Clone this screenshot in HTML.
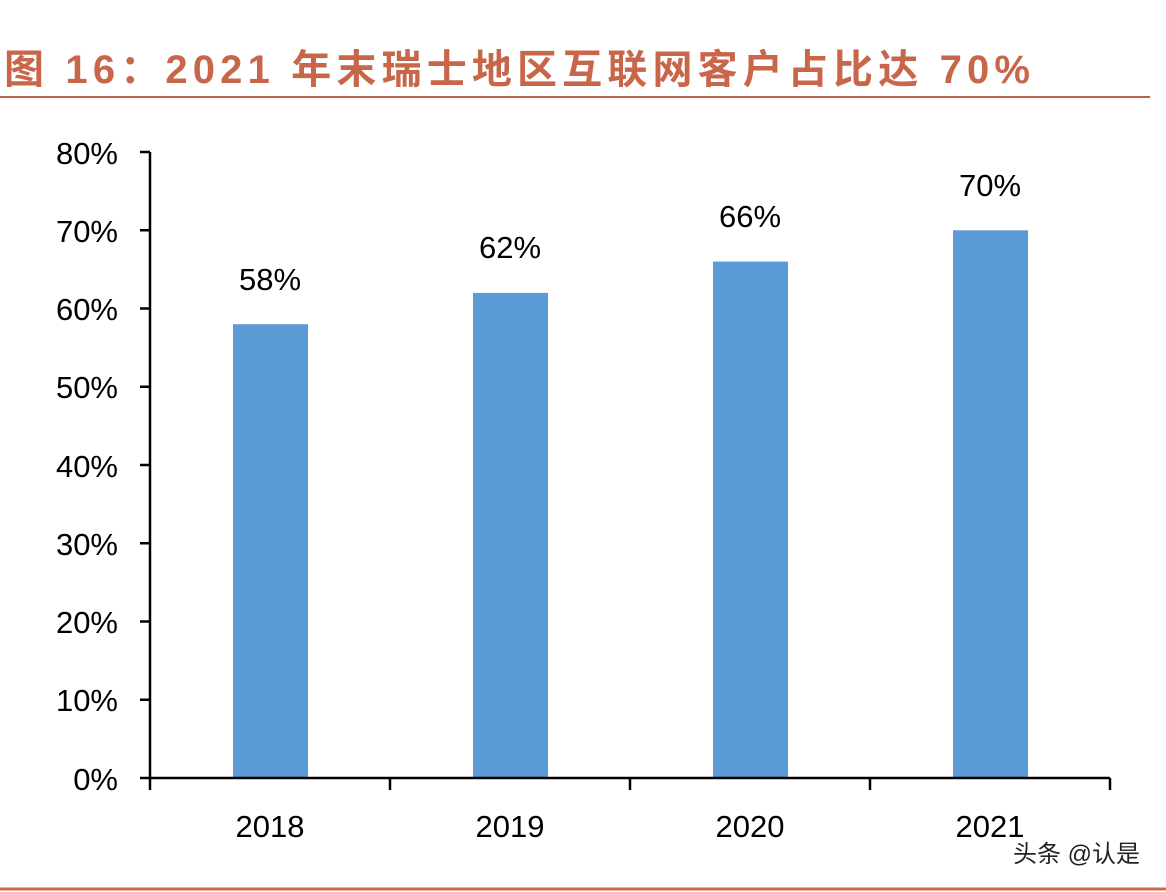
<!DOCTYPE html>
<html><head><meta charset="utf-8"><style>
html,body{margin:0;padding:0;background:#fff;}
svg{display:block;}
</style></head><body>
<svg width="1166" height="892" xmlns="http://www.w3.org/2000/svg">
<text x="4" y="83" textLength="1026" lengthAdjust="spacing" font-family="Liberation Sans, Noto Sans CJK SC, sans-serif" font-size="40" font-weight="bold" fill="#c8664a">图 16：2021 年末瑞士地区互联网客户占比达 70%</text>
<line x1="0" y1="97" x2="1150" y2="97" stroke="#c0604a" stroke-width="2"/>
<g fill="#5b9bd5">
<rect x="233" y="324.2" width="75" height="453.8"/>
<rect x="473" y="292.9" width="75" height="485.1"/>
<rect x="713" y="261.6" width="75" height="516.4"/>
<rect x="953" y="230.3" width="75" height="547.7"/>
</g>
<g stroke="#000" stroke-width="2.5" fill="none">
<line x1="150" y1="152" x2="150" y2="790"/>
<line x1="140" y1="778" x2="1110" y2="778"/>
<line x1="140" y1="152" x2="150" y2="152"/><line x1="140" y1="230.25" x2="150" y2="230.25"/>
<line x1="140" y1="308.5" x2="150" y2="308.5"/><line x1="140" y1="386.75" x2="150" y2="386.75"/>
<line x1="140" y1="465" x2="150" y2="465"/><line x1="140" y1="543.25" x2="150" y2="543.25"/>
<line x1="140" y1="621.5" x2="150" y2="621.5"/><line x1="140" y1="699.75" x2="150" y2="699.75"/>
<line x1="390" y1="778" x2="390" y2="790"/><line x1="630" y1="778" x2="630" y2="790"/>
<line x1="870" y1="778" x2="870" y2="790"/><line x1="1110" y1="778" x2="1110" y2="790"/>
</g>
<g font-family="Liberation Sans, sans-serif" font-size="31" fill="#000" text-anchor="end">
<text x="118" y="164">80%</text><text x="118" y="242">70%</text><text x="118" y="320">60%</text>
<text x="118" y="398">50%</text><text x="118" y="477">40%</text><text x="118" y="555">30%</text>
<text x="118" y="633">20%</text><text x="118" y="711">10%</text><text x="118" y="790">0%</text>
</g>
<g font-family="Liberation Sans, sans-serif" font-size="31" fill="#000" text-anchor="middle">
<text x="270" y="837">2018</text><text x="510" y="837">2019</text><text x="750" y="837">2020</text><text x="990" y="837">2021</text>
<text x="270" y="290">58%</text><text x="510" y="258">62%</text><text x="750" y="227">66%</text><text x="990" y="196">70%</text>
</g>
<text x="1140" y="862" text-anchor="end" font-family="Liberation Sans, Noto Sans CJK SC, sans-serif" font-size="24" fill="#222">头条 @认是</text>
<line x1="0" y1="889" x2="1166" y2="889" stroke="#d0654a" stroke-width="3"/>
</svg>
</body></html>
